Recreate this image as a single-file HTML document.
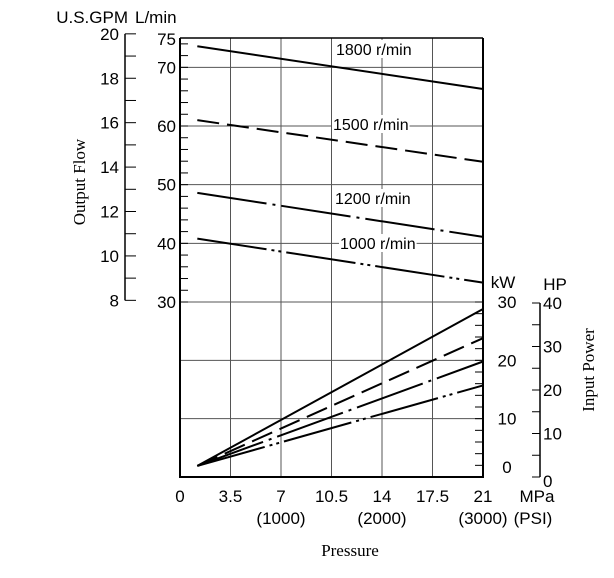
<!DOCTYPE html>
<html><head><meta charset="utf-8"><style>
body{margin:0;background:#fff;width:614px;height:573px;overflow:hidden}
svg{font-family:"Liberation Sans",sans-serif}
.s{font-family:"Liberation Serif",serif}
</style></head><body>
<svg id="chart" width="614" height="573" viewBox="0 0 614 573" xmlns="http://www.w3.org/2000/svg"></svg>
<script>
const speeds=["1800 r/min","1500 r/min","1200 r/min","1000 r/min"];
const pressureStart=[1.2,1.2,1.2,1.2];
const pressureEnd=[21,21,21,21];
const flowStart=[73.6,61.0,48.6,40.8];
const flowEnd=[66.3,53.9,41.1,33.3];
const powerStart=[1.9,1.9,1.9,1.9];
const powerEnd=[28.8,23.8,19.8,15.7];
const xTicks=["0","3.5","7","10.5","14","17.5","21"];
const xTickVals=[0,3.5,7,10.5,14,17.5,21];
const psiLabels=["(1000)","(2000)","(3000)"];
const psiVals=[7,14,21];
const lpmTicks=[30,40,50,60,70,75];
const gpmTicks=[8,10,12,14,16,18,20];
const kwTicks=[0,10,20,30];
const hpTicks=[0,10,20,30,40];
const labelPos=[[336,55],[333,130],[335,204],[340,249]];
const dashes=["","22,8","70,6,3,6","70,5,3,4,3,5"];

const svg=document.getElementById('chart');
const NS="http://www.w3.org/2000/svg";
const X0=180,X1=483;
const xS=p=>X0+(X1-X0)*p/21;
const yF=l=>38+(75-l)*(302-38)/45;
const yP=k=>477-k*(477-302)/30;
const yG=g=>yF(g*3.7854);
const yH=h=>yP(h*0.7457);
function el(t,a,name,txt){const e=document.createElementNS(NS,t);for(const k in a)e.setAttribute(k,a[k]);


if(txt!==undefined)e.textContent=txt;svg.appendChild(e);return e;}
function line(x1,y1,x2,y2,name,st,w){return el('line',{x1,y1,x2,y2,stroke:st||'#000','stroke-width':w||1.2},name);}
function text(x,y,s,name,anchor,size,cls){return el('text',{x,y,'font-size':size||16,'text-anchor':anchor||'start',class:cls||''},name,s);}
// grid
xTickVals.slice(1,6).forEach(v=>line(xS(v),38,xS(v),477,'grid-v','#555',1));
[70,60,50,40].forEach(v=>line(X0,yF(v),X1,yF(v),'grid-h-flow','#555',1));
[30,20,10].forEach(v=>line(X0,yP(v),X1,yP(v),'grid-h-power','#555',1));
line(X0,38,X1,38,'plot-top','#000',1.5);
line(X0,38,X0,478,'left-axis','#000',2);
line(X0,477,X1,477,'x-axis','#000',2);
line(X1,38,X1,478,'right-axis','#000',2);
// L/min ticks
for(let v=30;v<=74;v+=2)line(X0,yF(v),X0+8,yF(v),'lpm-tick','#000',1);
lpmTicks.forEach(v=>text(176,yF(v)+(v==75?7:6),String(v),'lpm-label','end',17));
// GPM axis
line(125,yG(8),125,yG(20),'gpm-axis','#000',1.5);
for(let v=8;v<=20;v++)line(125,yG(v),136,yG(v),'gpm-tick','#000',1);
gpmTicks.forEach(v=>text(119,yG(v)+6,String(v),'gpm-label','end',17));
text(128,23,"U.S.GPM",'gpm-unit','end',17);
text(135,23,"L/min",'lpm-unit','start',17);
// kW ticks
for(let v=0;v<=30;v+=2)line(X1-8,yP(v),X1,yP(v),'kw-tick','#000',1);
kwTicks.forEach(v=>text(507,yP(v)+(v==0?-4:6),String(v),'kw-label','middle',17));
text(503,288,"kW",'kw-unit','middle',17);
// HP axis
line(540,yH(0),540,yH(40),'hp-axis','#000',1.5);
for(let v=0;v<=40;v+=5)line(532,yH(v),540,yH(v),'hp-tick','#000',1);
hpTicks.forEach(v=>text(543,yH(v)+(v==0?10:6),String(v),'hp-label','start',17));
text(555,290,"HP",'hp-unit','middle',17);
// x labels
xTickVals.forEach((v,i)=>text(xS(v),502,xTicks[i],'x-tick-label','middle',17));
psiVals.forEach((v,i)=>text(xS(v),524,psiLabels[i],'psi-label','middle',17));
text(537,502,"MPa",'x-unit','middle',17);
text(533,524,"(PSI)",'psi-unit','middle',17);
text(350,556,"Pressure",'x-axis-title','middle',17,'s');
const t1=text(0,0,"Output Flow",'y-axis-title-left','middle',17,'s');t1.setAttribute('transform','translate(85,182) rotate(-90)');
const t2=text(0,0,"Input Power",'y-axis-title-right','middle',17,'s');t2.setAttribute('transform','translate(594,370) rotate(-90)');
// series
speeds.forEach((s,i)=>{
 const f=line(xS(pressureStart[i]),yF(flowStart[i]),xS(pressureEnd[i]),yF(flowEnd[i]),'flow-line-'+s.split(' ')[0],'#000',2);
 if(dashes[i])f.setAttribute('stroke-dasharray',dashes[i]);
 const p=line(xS(pressureStart[i]),yP(powerStart[i]),xS(pressureEnd[i]),yP(powerEnd[i]),'power-line-'+s.split(' ')[0],'#000',2);
 if(dashes[i])p.setAttribute('stroke-dasharray',dashes[i]);
 const bg=el('rect',{x:labelPos[i][0]-1,y:labelPos[i][1]-15,width:10,height:18,fill:'#fff'},'label-bg');
 const t=text(labelPos[i][0],labelPos[i][1],s,'speed-label-'+s.split(' ')[0],'start',16);
 bg.setAttribute('width',t.getComputedTextLength()+2);
});
</script>
</body></html>
